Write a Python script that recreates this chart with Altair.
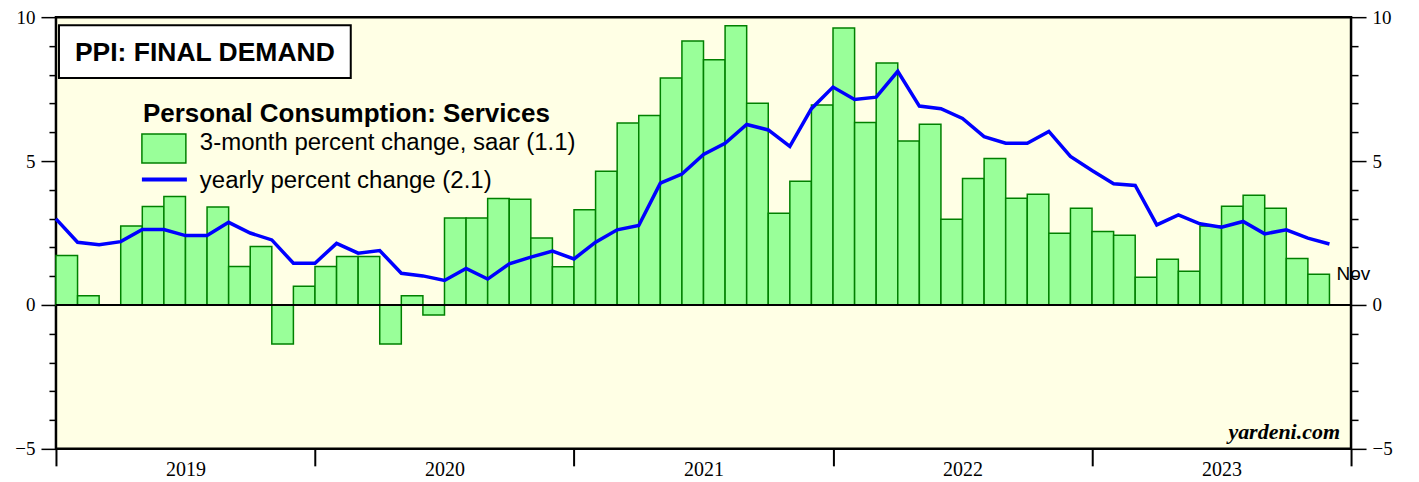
import altair as alt
import pandas as pd

# ---------------- data ----------------
YEARS = ["2019", "2020", "2021", "2022", "2023"]

BAR_MONTHS = pd.period_range("2019-01", "2023-11", freq="M").strftime("%b %Y").tolist()
BARS = [1.72, 0.32, 0.00, 2.74, 3.42, 3.77, 2.41, 3.40, 1.34, 2.03, -1.36, 0.65,
        1.34, 1.68, 1.68, -1.36, 0.32, -0.35, 3.02, 3.02, 3.70, 3.67, 2.33, 1.33,
        3.31, 4.65, 6.32, 6.58, 7.89, 9.17, 8.52, 9.70, 7.01, 3.19, 4.30, 6.95,
        9.62, 6.34, 8.41, 5.70, 6.28, 2.98, 4.39, 5.09, 3.71, 3.85, 2.49, 3.36,
        2.55, 2.42, 0.96, 1.59, 1.17, 2.74, 3.43, 3.81, 3.36, 1.61, 1.07]

LINE_MONTHS = pd.period_range("2018-12", "2023-11", freq="M").strftime("%b %Y").tolist()
LINE = [2.99, 2.18, 2.09, 2.20, 2.62, 2.62, 2.41, 2.41, 2.87, 2.50, 2.26, 1.45, 1.45,
        2.14, 1.80, 1.89, 1.10, 1.01, 0.85, 1.27, 0.90, 1.43, 1.66, 1.87, 1.60,
        2.18, 2.61, 2.76, 4.23, 4.55, 5.23, 5.62, 6.27, 6.08, 5.51, 6.82, 7.57,
        7.14, 7.22, 8.12, 6.91, 6.82, 6.48, 5.85, 5.62, 5.62, 6.03, 5.16, 4.67,
        4.21, 4.15, 2.78, 3.13, 2.82, 2.70, 2.90, 2.47, 2.61, 2.32, 2.12]

Y_TICKS = list(range(-5, 11))
X_TICKS = [0, 12, 24, 36, 48, 60]

TITLE = "PPI: FINAL DEMAND"
HEADER = "Personal Consumption: Services"
LEG_BAR = "3-month percent change, saar (1.1)"
LEG_LINE = "yearly percent change (2.1)"
SOURCE = "yardeni.com"

# ---------------- tables ----------------
bars_df = pd.DataFrame({"month": BAR_MONTHS, "start": range(len(BARS)), "value": BARS})
bars_df["end"] = bars_df["start"] + 1
bars_df["base"] = 0.0
bars_df["short"] = bars_df["month"].str[:3]
last_df = bars_df.tail(1)

line_df = pd.DataFrame({"month": LINE_MONTHS, "pos": range(len(LINE)), "value": LINE})

W, H = 1296, 432
BAR_FILL, BAR_STROKE = "#99FF99", "#008000"
BLUE = "#0000FF"
SERIF = "Liberation Serif"
SANS = "Liberation Sans"

xscale = alt.Scale(domain=[0, 60], nice=False, zero=False)
yscale = alt.Scale(domain=[-5, 10], nice=False, zero=False)

year_expr = "datum.value < 60 ? " + str(YEARS) + "[floor(datum.value / 12)] : ''"
xaxis = alt.Axis(values=X_TICKS, tickSize=17, tickWidth=2, tickColor="black",
                 labelExpr=year_expr, labelOffset=129.6, labelFont=SERIF, labelFontSize=20,
                 labelColor="black", labelPadding=-6, labelFlush=False, labelOverlap=False,
                 domain=False, grid=False, title=None)

def yaxis(orient):
    return alt.Axis(values=Y_TICKS, orient=orient,
                    tickSize={"condition": {"test": "datum.value % 5 === 0", "value": 15}, "value": 7},
                    tickWidth=1.5, tickColor="black",
                    labelExpr="datum.value % 5 === 0 ? datum.label : ''",
                    labelFont=SERIF, labelFontSize=19, labelColor="black", labelPadding=6,
                    labelFlush=False, labelOverlap=False,
                    domain=False, grid=False, title=None)

one = pd.DataFrame({"k": [0]})

def txt(s, x, y, **kw):
    return alt.Chart(one).mark_text(text=s, align=kw.pop("align", "left"),
                                    baseline="alphabetic", color="black", **kw).encode(
        x=alt.value(x), y=alt.value(y))

title_box = alt.Chart(one).mark_rect(fill="white", stroke="black", strokeWidth=2).encode(
    x=alt.value(3), x2=alt.value(295), y=alt.value(8), y2=alt.value(61))
title_txt = txt(TITLE, 19, 43.5, font=SANS, fontWeight="bold", fontSize=26.5)
header_txt = txt(HEADER, 87, 104.5, font=SANS, fontWeight="bold", fontSize=26)
swatch = alt.Chart(one).mark_rect(fill=BAR_FILL, stroke=BAR_STROKE, strokeWidth=1.5).encode(
    x=alt.value(86), x2=alt.value(130), y=alt.value(117), y2=alt.value(146))
leg1_txt = txt(LEG_BAR, 144, 133, font=SANS, fontSize=24)
leg_line = alt.Chart(one).mark_rule(color=BLUE, strokeWidth=4).encode(
    x=alt.value(86), x2=alt.value(131), y=alt.value(162.5))
leg2_txt = txt(LEG_LINE, 144, 171, font=SANS, fontSize=24)
source_txt = txt(SOURCE, 1285, 422, align="right", font=SERIF, fontWeight="bold",
                 fontStyle="italic", fontSize=22)

bars = alt.Chart(bars_df).mark_rect(fill=BAR_FILL, stroke=BAR_STROKE, strokeWidth=1.5).encode(
    x=alt.X("start:Q", scale=xscale, axis=xaxis),
    x2="end:Q",
    y=alt.Y("value:Q", scale=yscale, axis=yaxis("left")),
    y2="base:Q",
)
zero = alt.Chart(one).mark_rule(color="black", strokeWidth=2).encode(
    y=alt.Y(datum=0, scale=yscale, axis=yaxis("left")))
nov = alt.Chart(last_df).mark_text(align="left", baseline="middle", dx=7, font=SANS,
                                   fontSize=19, color="black").encode(
    x=alt.X("end:Q", scale=xscale, axis=xaxis),
    y=alt.Y("value:Q", scale=yscale, axis=yaxis("left")),
    text="short:N")

left = alt.layer(title_box, title_txt, header_txt, swatch, leg1_txt, leg_line, leg2_txt,
                 source_txt, bars, zero, nov)

line = alt.Chart(line_df).mark_line(color=BLUE, strokeWidth=3.5).encode(
    x=alt.X("pos:Q", scale=xscale, axis=xaxis),
    y=alt.Y("value:Q", scale=yscale, axis=yaxis("right")),
)

chart = alt.layer(left, line).resolve_scale(y="independent").properties(
    width=W, height=H,
    padding={"left": 48, "top": 9, "right": 60, "bottom": 32},
    autosize="none",
    background="white",
).configure_view(fill="#FFFFE5", stroke="black", strokeWidth=2.5)

chart.save("out.html", embed_options={"renderer": "svg", "actions": False})
